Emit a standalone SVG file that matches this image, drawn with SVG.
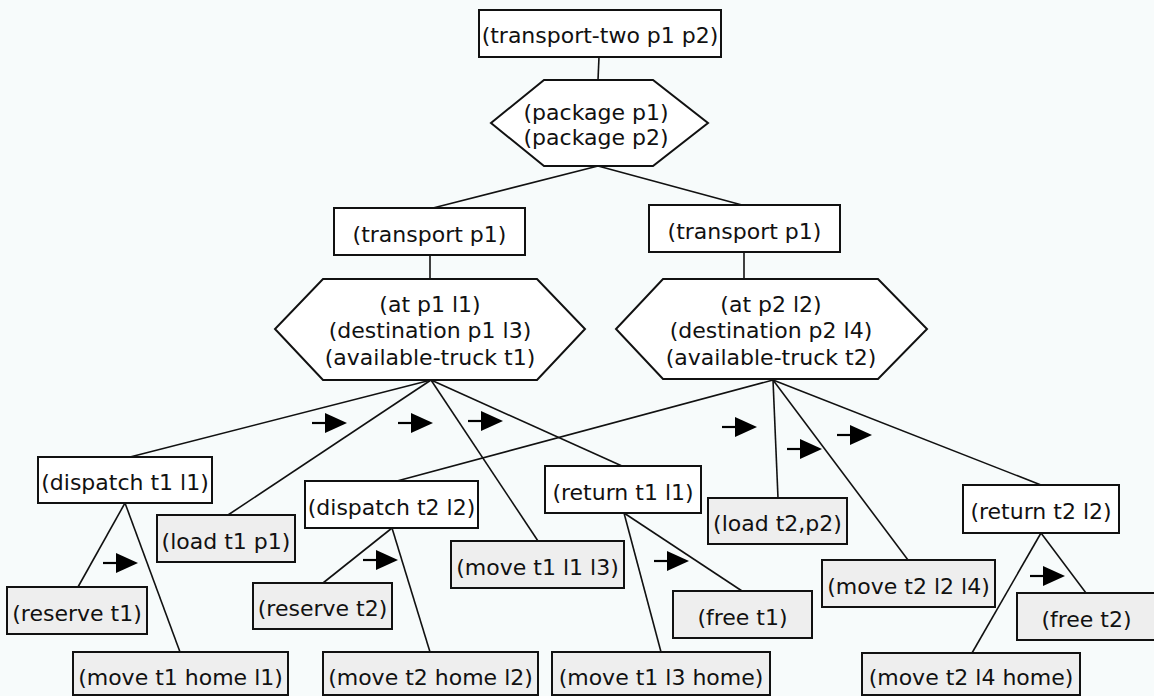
<svg xmlns="http://www.w3.org/2000/svg" xmlns:xlink="http://www.w3.org/1999/xlink" width="1154" height="696" viewBox="0 0 1154 696">
<style>
.n{fill:#ffffff;stroke:#111;stroke-width:2}
.l{fill:#eeeeee;stroke:#111;stroke-width:2}
.t{font-family:"DejaVu Sans",Verdana,sans-serif;font-size:22px;fill:#111;text-anchor:middle}
.c line{stroke:#111;stroke-width:1.6}
</style>
<defs>
<g id="arr"><line x1="0" y1="0" x2="15" y2="0" stroke="#000" stroke-width="2.2"/><polygon points="13,-10 35,0 13,10" fill="#000"/></g>
</defs>
<rect x="0" y="0" width="1154" height="696" fill="#f7fbfb"/>
<g id="connectors" class="c">
<line x1="599" y1="57" x2="598" y2="80"/>
<line x1="598" y1="166" x2="433" y2="208"/>
<line x1="598" y1="166" x2="742" y2="205"/>
<line x1="430" y1="255" x2="430" y2="279"/>
<line x1="744" y1="252" x2="744" y2="279"/>
<line x1="431" y1="380" x2="130" y2="457"/>
<line x1="431" y1="380" x2="228" y2="515"/>
<line x1="431" y1="380" x2="538" y2="541"/>
<line x1="431" y1="380" x2="622" y2="466"/>
<line x1="773" y1="380" x2="397" y2="481"/>
<line x1="773" y1="380" x2="778" y2="498"/>
<line x1="773" y1="380" x2="908" y2="560"/>
<line x1="773" y1="380" x2="1041" y2="485"/>
<line x1="125" y1="503" x2="78" y2="587"/>
<line x1="125" y1="503" x2="180" y2="652"/>
<line x1="392" y1="528" x2="323" y2="583"/>
<line x1="392" y1="528" x2="430" y2="652"/>
<line x1="624" y1="513" x2="742" y2="591"/>
<line x1="624" y1="513" x2="661" y2="652"/>
<line x1="1041" y1="533" x2="1086" y2="593"/>
<line x1="1041" y1="533" x2="972" y2="653"/>
</g>
<g id="order-arrows">
<use xlink:href="#arr" x="312" y="423"/>
<use xlink:href="#arr" x="398" y="423"/>
<use xlink:href="#arr" x="468" y="421"/>
<use xlink:href="#arr" x="103" y="563"/>
<use xlink:href="#arr" x="363" y="560"/>
<use xlink:href="#arr" x="654" y="561"/>
<use xlink:href="#arr" x="722" y="427"/>
<use xlink:href="#arr" x="787" y="449"/>
<use xlink:href="#arr" x="837" y="435"/>
<use xlink:href="#arr" x="1030" y="576"/>
</g>
<g id="n-top"><rect class="n" x="479" y="10" width="242" height="47"/><text class="t" x="600" y="43">(transport-two p1 p2)</text></g>
<g id="h-top"><polygon class="n" points="544,80 653,80 708,123 653,166 544,166 491,123"/><text class="t" x="596" y="120">(package p1)</text><text class="t" x="596" y="145">(package p2)</text></g>
<g id="n-tp1"><rect class="n" x="334" y="208" width="191" height="47"/><text class="t" x="429.5" y="242">(transport p1)</text></g>
<g id="n-tp2"><rect class="n" x="649" y="205" width="191" height="47"/><text class="t" x="744.5" y="239">(transport p1)</text></g>
<g id="h-left"><polygon class="n" points="323,279 537,279 585,329 537,380 323,380 275,329"/><text class="t" x="430" y="312">(at p1 l1)</text><text class="t" x="430" y="338">(destination p1 l3)</text><text class="t" x="430" y="365">(available-truck t1)</text></g>
<g id="h-right"><polygon class="n" points="663,279 878,279 927,329 878,379 663,379 616,329"/><text class="t" x="771" y="312">(at p2 l2)</text><text class="t" x="771" y="338">(destination p2 l4)</text><text class="t" x="771" y="365">(available-truck t2)</text></g>
<g id="n-dispatch1"><rect class="n" x="38" y="457" width="174" height="46"/><text class="t" x="125" y="490">(dispatch t1 l1)</text></g>
<g id="n-dispatch2"><rect class="n" x="305" y="481" width="173" height="47"/><text class="t" x="391.5" y="515">(dispatch t2 l2)</text></g>
<g id="n-return1"><rect class="n" x="545" y="466" width="156" height="47"/><text class="t" x="623" y="500">(return t1 l1)</text></g>
<g id="n-return2"><rect class="n" x="963" y="485" width="156" height="48"/><text class="t" x="1041" y="519">(return t2 l2)</text></g>
<g id="n-load1"><rect class="l" x="157" y="515" width="138" height="47"/><text class="t" x="226" y="549">(load t1 p1)</text></g>
<g id="n-reserve1"><rect class="l" x="7" y="587" width="140" height="47"/><text class="t" x="77" y="621">(reserve t1)</text></g>
<g id="n-movehome1"><rect class="l" x="73" y="652" width="215" height="43"/><text class="t" x="180.5" y="685">(move t1 home l1)</text></g>
<g id="n-reserve2"><rect class="l" x="253" y="583" width="139" height="46"/><text class="t" x="322.5" y="616">(reserve t2)</text></g>
<g id="n-movehome2"><rect class="l" x="323" y="652" width="215" height="43"/><text class="t" x="430.5" y="685">(move t2 home l2)</text></g>
<g id="n-move113"><rect class="l" x="451" y="541" width="173" height="47"/><text class="t" x="537.5" y="575">(move t1 l1 l3)</text></g>
<g id="n-move13home"><rect class="l" x="552" y="652" width="218" height="43"/><text class="t" x="661" y="685">(move t1 l3 home)</text></g>
<g id="n-free1"><rect class="l" x="673" y="591" width="139" height="47"/><text class="t" x="742.5" y="625">(free t1)</text></g>
<g id="n-load2"><rect class="l" x="708" y="498" width="139" height="46"/><text class="t" x="777.5" y="531">(load t2,p2)</text></g>
<g id="n-move224"><rect class="l" x="822" y="560" width="173" height="47"/><text class="t" x="908.5" y="594">(move t2 l2 l4)</text></g>
<g id="n-free2"><rect class="l" x="1017" y="593" width="139" height="47"/><text class="t" x="1086.5" y="627">(free t2)</text></g>
<g id="n-move24home"><rect class="l" x="862" y="653" width="218" height="42"/><text class="t" x="971" y="685">(move t2 l4 home)</text></g>
</svg>
